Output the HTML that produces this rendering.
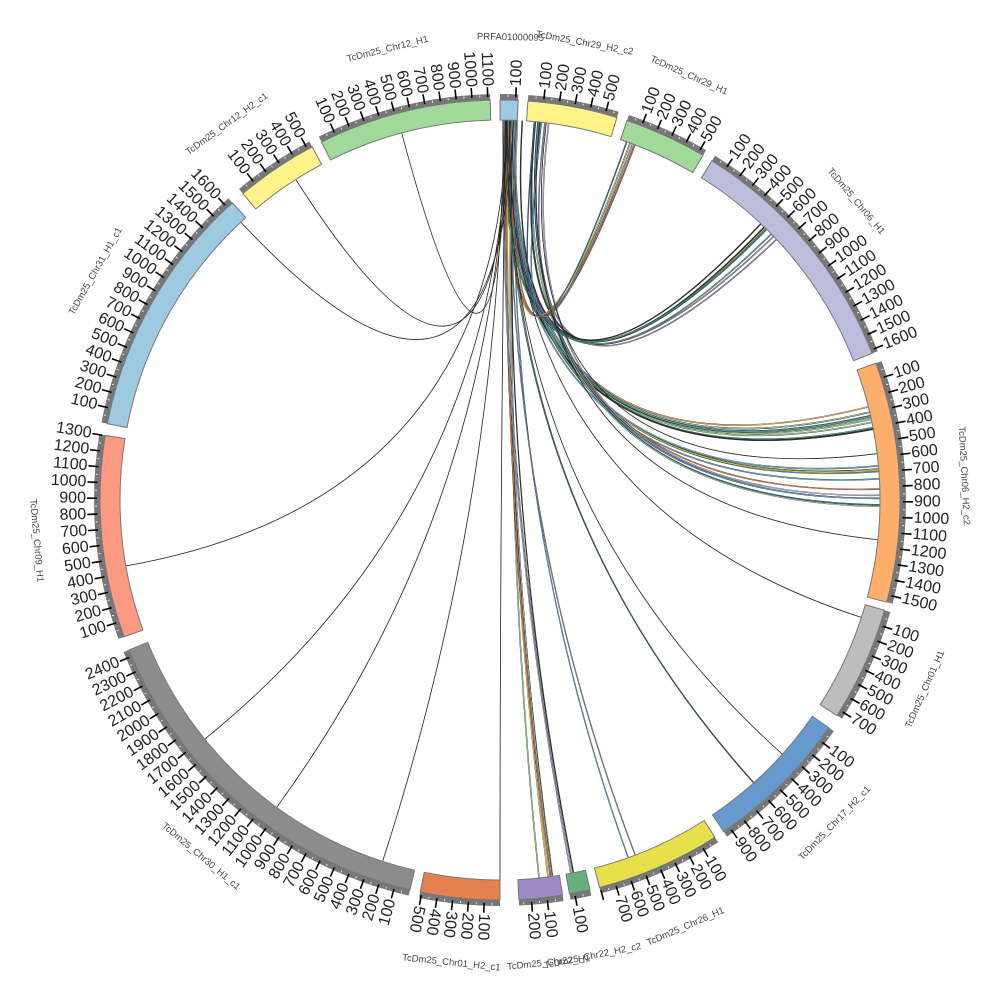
<!DOCTYPE html>
<html><head><meta charset="utf-8"><style>
html,body{margin:0;padding:0;background:#fff;width:1000px;height:1000px;overflow:hidden}
svg{display:block}
.n text{font-family:"Liberation Sans",sans-serif;font-size:16px;fill:#222;dominant-baseline:central}
.n .u{text-anchor:start}
.n .f{text-anchor:end}
.lab text{font-family:"Liberation Sans",sans-serif;font-size:9.5px;fill:#444;text-anchor:middle}
</style></head><body>
<svg id="s" width="1000" height="1000" viewBox="0 0 1000 1000">
<g id="links"></g>
<g id="blocks"></g>
<g transform="translate(500,500)">
<g class="lab">
<text transform="rotate(1.3)translate(0,-460)">PRFA01000095</text>
<text transform="rotate(10.5)translate(0,-462)">TcDm25_Chr29_H2_c2</text>
<text transform="rotate(24)translate(0,-462)">TcDm25_Chr29_H1</text>
<text transform="rotate(50)translate(0,-462)">TcDm25_Chr06_H1</text>
<text transform="rotate(87)translate(0,-462)">TcDm25_Chr06_H2_c2</text>
<text transform="rotate(114)translate(0,-468)rotate(180)">TcDm25_Chr01_H1</text>
<text transform="rotate(134)translate(0,-468)rotate(180)">TcDm25_Chr17_H2_c1</text>
<text transform="rotate(156.5)translate(0,-468)rotate(180)">TcDm25_Chr26_H1</text>
<text transform="rotate(168.5)translate(0,-468)rotate(180)">TcDm25_Chr22_H2_c2</text>
<text transform="rotate(174)translate(0,-468)rotate(180)">TcDm25_Chr22_H1</text>
<text transform="rotate(186)translate(0,-468)rotate(180)">TcDm25_Chr01_H2_c1</text>
<text transform="rotate(220)translate(0,-468)rotate(180)">TcDm25_Chr30_H1_c1</text>
<text transform="rotate(265)translate(0,-468)rotate(180)">TcDm25_Chr09_H1</text>
<text transform="rotate(299.5)translate(0,-462)">TcDm25_Chr31_H1_c1</text>
<text transform="rotate(324)translate(0,-462)">TcDm25_Chr12_H2_c1</text>
<text transform="rotate(346)translate(0,-462)">TcDm25_Chr12_H1</text>
</g>
<g class="n">
<g transform="rotate(0)"><text class="u" transform="rotate(2.25)translate(0,-414)rotate(-90)">100</text></g>
<g transform="rotate(4)">
<text class="u" transform="rotate(2.25)translate(0,-414)rotate(-90)">100</text>
<text class="u" transform="rotate(4.5)translate(0,-414)rotate(-90)">200</text>
<text class="u" transform="rotate(6.75)translate(0,-414)rotate(-90)">300</text>
<text class="u" transform="rotate(9)translate(0,-414)rotate(-90)">400</text>
<text class="u" transform="rotate(11.25)translate(0,-414)rotate(-90)">500</text>
</g>
<g transform="rotate(18.5)">
<text class="u" transform="rotate(2.25)translate(0,-414)rotate(-90)">100</text>
<text class="u" transform="rotate(4.5)translate(0,-414)rotate(-90)">200</text>
<text class="u" transform="rotate(6.75)translate(0,-414)rotate(-90)">300</text>
<text class="u" transform="rotate(9)translate(0,-414)rotate(-90)">400</text>
<text class="u" transform="rotate(11.25)translate(0,-414)rotate(-90)">500</text>
</g>
<g transform="rotate(32)">
<text class="u" transform="rotate(2.25)translate(0,-414)rotate(-90)">100</text>
<text class="u" transform="rotate(4.5)translate(0,-414)rotate(-90)">200</text>
<text class="u" transform="rotate(6.75)translate(0,-414)rotate(-90)">300</text>
<text class="u" transform="rotate(9)translate(0,-414)rotate(-90)">400</text>
<text class="u" transform="rotate(11.25)translate(0,-414)rotate(-90)">500</text>
<text class="u" transform="rotate(13.5)translate(0,-414)rotate(-90)">600</text>
<text class="u" transform="rotate(15.75)translate(0,-414)rotate(-90)">700</text>
<text class="u" transform="rotate(18)translate(0,-414)rotate(-90)">800</text>
<text class="u" transform="rotate(20.25)translate(0,-414)rotate(-90)">900</text>
<text class="u" transform="rotate(22.5)translate(0,-414)rotate(-90)">1000</text>
<text class="u" transform="rotate(24.75)translate(0,-414)rotate(-90)">1100</text>
<text class="u" transform="rotate(27)translate(0,-414)rotate(-90)">1200</text>
<text class="u" transform="rotate(29.25)translate(0,-414)rotate(-90)">1300</text>
<text class="u" transform="rotate(31.5)translate(0,-414)rotate(-90)">1400</text>
<text class="u" transform="rotate(33.75)translate(0,-414)rotate(-90)">1500</text>
<text class="u" transform="rotate(36)translate(0,-414)rotate(-90)">1600</text>
</g>
<g transform="rotate(70)">
<text class="u" transform="rotate(2.25)translate(0,-414)rotate(-90)">100</text>
<text class="u" transform="rotate(4.5)translate(0,-414)rotate(-90)">200</text>
<text class="u" transform="rotate(6.75)translate(0,-414)rotate(-90)">300</text>
<text class="u" transform="rotate(9)translate(0,-414)rotate(-90)">400</text>
<text class="u" transform="rotate(11.25)translate(0,-414)rotate(-90)">500</text>
<text class="u" transform="rotate(13.5)translate(0,-414)rotate(-90)">600</text>
<text class="u" transform="rotate(15.75)translate(0,-414)rotate(-90)">700</text>
<text class="u" transform="rotate(18)translate(0,-414)rotate(-90)">800</text>
<text class="u" transform="rotate(20.25)translate(0,-414)rotate(-90)">900</text>
<text class="u" transform="rotate(22.5)translate(0,-414)rotate(-90)">1000</text>
<text class="u" transform="rotate(24.75)translate(0,-414)rotate(-90)">1100</text>
<text class="u" transform="rotate(27)translate(0,-414)rotate(-90)">1200</text>
<text class="u" transform="rotate(29.25)translate(0,-414)rotate(-90)">1300</text>
<text class="u" transform="rotate(31.5)translate(0,-414)rotate(-90)">1400</text>
<text class="u" transform="rotate(33.75)translate(0,-414)rotate(-90)">1500</text>
</g>
<g transform="rotate(106)">
<text class="u" transform="rotate(2.25)translate(0,-414)rotate(-90)">100</text>
<text class="u" transform="rotate(4.5)translate(0,-414)rotate(-90)">200</text>
<text class="u" transform="rotate(6.75)translate(0,-414)rotate(-90)">300</text>
<text class="u" transform="rotate(9)translate(0,-414)rotate(-90)">400</text>
<text class="u" transform="rotate(11.25)translate(0,-414)rotate(-90)">500</text>
<text class="u" transform="rotate(13.5)translate(0,-414)rotate(-90)">600</text>
<text class="u" transform="rotate(15.75)translate(0,-414)rotate(-90)">700</text>
</g>
<g transform="rotate(124.7)">
<text class="u" transform="rotate(2.25)translate(0,-414)rotate(-90)">100</text>
<text class="u" transform="rotate(4.5)translate(0,-414)rotate(-90)">200</text>
<text class="u" transform="rotate(6.75)translate(0,-414)rotate(-90)">300</text>
<text class="u" transform="rotate(9)translate(0,-414)rotate(-90)">400</text>
<text class="u" transform="rotate(11.25)translate(0,-414)rotate(-90)">500</text>
<text class="u" transform="rotate(13.5)translate(0,-414)rotate(-90)">600</text>
<text class="u" transform="rotate(15.75)translate(0,-414)rotate(-90)">700</text>
<text class="u" transform="rotate(18)translate(0,-414)rotate(-90)">800</text>
<text class="u" transform="rotate(20.25)translate(0,-414)rotate(-90)">900</text>
</g>
<g transform="rotate(147.5)">
<text class="u" transform="rotate(2.25)translate(0,-414)rotate(-90)">100</text>
<text class="u" transform="rotate(4.5)translate(0,-414)rotate(-90)">200</text>
<text class="u" transform="rotate(6.75)translate(0,-414)rotate(-90)">300</text>
<text class="u" transform="rotate(9)translate(0,-414)rotate(-90)">400</text>
<text class="u" transform="rotate(11.25)translate(0,-414)rotate(-90)">500</text>
<text class="u" transform="rotate(13.5)translate(0,-414)rotate(-90)">600</text>
<text class="u" transform="rotate(15.75)translate(0,-414)rotate(-90)">700</text>
</g>
<g transform="rotate(167)"><text class="u" transform="rotate(2.25)translate(0,-414)rotate(-90)">100</text></g>
<g transform="rotate(171)">
<text class="u" transform="rotate(2.25)translate(0,-414)rotate(-90)">100</text>
<text class="u" transform="rotate(4.5)translate(0,-414)rotate(-90)">200</text>
</g>
<g transform="rotate(180)">
<text class="u" transform="rotate(2.25)translate(0,-414)rotate(-90)">100</text>
<text class="u" transform="rotate(4.5)translate(0,-414)rotate(-90)">200</text>
<text class="u" transform="rotate(6.75)translate(0,-414)rotate(-90)">300</text>
<text class="u" transform="rotate(9)translate(0,-414)rotate(-90)">400</text>
<text class="u" transform="rotate(11.25)translate(0,-414)rotate(-90)">500</text>
</g>
<g transform="rotate(193)">
<text class="f" transform="rotate(2.25)translate(0,-414)rotate(90)">100</text>
<text class="f" transform="rotate(4.5)translate(0,-414)rotate(90)">200</text>
<text class="f" transform="rotate(6.75)translate(0,-414)rotate(90)">300</text>
<text class="f" transform="rotate(9)translate(0,-414)rotate(90)">400</text>
<text class="f" transform="rotate(11.25)translate(0,-414)rotate(90)">500</text>
<text class="f" transform="rotate(13.5)translate(0,-414)rotate(90)">600</text>
<text class="f" transform="rotate(15.75)translate(0,-414)rotate(90)">700</text>
<text class="f" transform="rotate(18)translate(0,-414)rotate(90)">800</text>
<text class="f" transform="rotate(20.25)translate(0,-414)rotate(90)">900</text>
<text class="f" transform="rotate(22.5)translate(0,-414)rotate(90)">1000</text>
<text class="f" transform="rotate(24.75)translate(0,-414)rotate(90)">1100</text>
<text class="f" transform="rotate(27)translate(0,-414)rotate(90)">1200</text>
<text class="f" transform="rotate(29.25)translate(0,-414)rotate(90)">1300</text>
<text class="f" transform="rotate(31.5)translate(0,-414)rotate(90)">1400</text>
<text class="f" transform="rotate(33.75)translate(0,-414)rotate(90)">1500</text>
<text class="f" transform="rotate(36)translate(0,-414)rotate(90)">1600</text>
<text class="f" transform="rotate(38.25)translate(0,-414)rotate(90)">1700</text>
<text class="f" transform="rotate(40.5)translate(0,-414)rotate(90)">1800</text>
<text class="f" transform="rotate(42.75)translate(0,-414)rotate(90)">1900</text>
<text class="f" transform="rotate(45)translate(0,-414)rotate(90)">2000</text>
<text class="f" transform="rotate(47.25)translate(0,-414)rotate(90)">2100</text>
<text class="f" transform="rotate(49.5)translate(0,-414)rotate(90)">2200</text>
<text class="f" transform="rotate(51.75)translate(0,-414)rotate(90)">2300</text>
<text class="f" transform="rotate(54)translate(0,-414)rotate(90)">2400</text>
</g>
<g transform="rotate(250)">
<text class="f" transform="rotate(2.25)translate(0,-414)rotate(90)">100</text>
<text class="f" transform="rotate(4.5)translate(0,-414)rotate(90)">200</text>
<text class="f" transform="rotate(6.75)translate(0,-414)rotate(90)">300</text>
<text class="f" transform="rotate(9)translate(0,-414)rotate(90)">400</text>
<text class="f" transform="rotate(11.25)translate(0,-414)rotate(90)">500</text>
<text class="f" transform="rotate(13.5)translate(0,-414)rotate(90)">600</text>
<text class="f" transform="rotate(15.75)translate(0,-414)rotate(90)">700</text>
<text class="f" transform="rotate(18)translate(0,-414)rotate(90)">800</text>
<text class="f" transform="rotate(20.25)translate(0,-414)rotate(90)">900</text>
<text class="f" transform="rotate(22.5)translate(0,-414)rotate(90)">1000</text>
<text class="f" transform="rotate(24.75)translate(0,-414)rotate(90)">1100</text>
<text class="f" transform="rotate(27)translate(0,-414)rotate(90)">1200</text>
<text class="f" transform="rotate(29.25)translate(0,-414)rotate(90)">1300</text>
</g>
<g transform="rotate(281)">
<text class="f" transform="rotate(2.25)translate(0,-414)rotate(90)">100</text>
<text class="f" transform="rotate(4.5)translate(0,-414)rotate(90)">200</text>
<text class="f" transform="rotate(6.75)translate(0,-414)rotate(90)">300</text>
<text class="f" transform="rotate(9)translate(0,-414)rotate(90)">400</text>
<text class="f" transform="rotate(11.25)translate(0,-414)rotate(90)">500</text>
<text class="f" transform="rotate(13.5)translate(0,-414)rotate(90)">600</text>
<text class="f" transform="rotate(15.75)translate(0,-414)rotate(90)">700</text>
<text class="f" transform="rotate(18)translate(0,-414)rotate(90)">800</text>
<text class="f" transform="rotate(20.25)translate(0,-414)rotate(90)">900</text>
<text class="f" transform="rotate(22.5)translate(0,-414)rotate(90)">1000</text>
<text class="f" transform="rotate(24.75)translate(0,-414)rotate(90)">1100</text>
<text class="f" transform="rotate(27)translate(0,-414)rotate(90)">1200</text>
<text class="f" transform="rotate(29.25)translate(0,-414)rotate(90)">1300</text>
<text class="f" transform="rotate(31.5)translate(0,-414)rotate(90)">1400</text>
<text class="f" transform="rotate(33.75)translate(0,-414)rotate(90)">1500</text>
<text class="f" transform="rotate(36)translate(0,-414)rotate(90)">1600</text>
</g>
<g transform="rotate(320)">
<text class="f" transform="rotate(2.25)translate(0,-414)rotate(90)">100</text>
<text class="f" transform="rotate(4.5)translate(0,-414)rotate(90)">200</text>
<text class="f" transform="rotate(6.75)translate(0,-414)rotate(90)">300</text>
<text class="f" transform="rotate(9)translate(0,-414)rotate(90)">400</text>
<text class="f" transform="rotate(11.25)translate(0,-414)rotate(90)">500</text>
</g>
<g transform="rotate(333.5)">
<text class="f" transform="rotate(2.25)translate(0,-414)rotate(90)">100</text>
<text class="f" transform="rotate(4.5)translate(0,-414)rotate(90)">200</text>
<text class="f" transform="rotate(6.75)translate(0,-414)rotate(90)">300</text>
<text class="f" transform="rotate(9)translate(0,-414)rotate(90)">400</text>
<text class="f" transform="rotate(11.25)translate(0,-414)rotate(90)">500</text>
<text class="f" transform="rotate(13.5)translate(0,-414)rotate(90)">600</text>
<text class="f" transform="rotate(15.75)translate(0,-414)rotate(90)">700</text>
<text class="f" transform="rotate(18)translate(0,-414)rotate(90)">800</text>
<text class="f" transform="rotate(20.25)translate(0,-414)rotate(90)">900</text>
<text class="f" transform="rotate(22.5)translate(0,-414)rotate(90)">1000</text>
<text class="f" transform="rotate(24.75)translate(0,-414)rotate(90)">1100</text>
</g>
</g>
</g>
</svg>
<script>
(function(){
var NS="http://www.w3.org/2000/svg",C=500,R1=380,R2=400;
function pt(a,r){a=a*Math.PI/180;return [C+r*Math.sin(a),C-r*Math.cos(a)];}
function el(t,at,p){var e=document.createElementNS(NS,t);for(var k in at)e.setAttribute(k,at[k]);p.appendChild(e);return e;}
var B=document.getElementById("blocks"),L=document.getElementById("links");
var segs=[[0,2.6,'#9ecae1'],[4,17,'#fff38a'],[18.5,30.5,'#a1d99b'],[32,68.5,'#bcbddc'],[70,104.8,'#fdae6b'],[106,122.6,'#bdbdbd'],[124.7,146,'#6699cc'],[147.5,165.6,'#e7e04a'],[167,170,'#66b07f'],[171,177.3,'#9e8ac4'],[180,191.5,'#e6804f'],[193,248,'#8c8c8c'],[250,279.3,'#fb9a80'],[281,318,'#9ecae1'],[320,332,'#fff38a'],[333.5,358.6,'#a1d99b']];
function arc(a1,a2,r1,r2){var p1=pt(a1,r2),p2=pt(a2,r2),p3=pt(a2,r1),p4=pt(a1,r1),lg=(a2-a1)>180?1:0;
return "M"+p1+"A"+r2+","+r2+" 0 "+lg+" 1 "+p2+"L"+p3+"A"+r1+","+r1+" 0 "+lg+" 0 "+p4+"Z";}
segs.forEach(function(s){
 el("path",{d:arc(s[0],s[1],R2-2,R2+6),fill:"#777"},B);
 el("path",{d:arc(s[0],s[1],R1,R2),fill:s[2],stroke:"#777","stroke-width":1},B);
 for(var v=50;v*0.0225<=s[1]-s[0];v+=100){var a=s[0]+v*0.0225;var q=pt(a,R2+3),w=pt(a,R2+5);el("line",{x1:q[0],y1:q[1],x2:w[0],y2:w[1],stroke:"#fff","stroke-width":0.8},B);}
 for(var k=1;k*2.25<=s[1]-s[0];k++){var a=s[0]+k*2.25;var q=pt(a,R2+3),w=pt(a,R2+13);el("line",{x1:q[0],y1:q[1],x2:w[0],y2:w[1],stroke:"#000","stroke-width":1.6},B);}
});
var seed=7;function rnd(){seed=(seed*9301+49297)%233280;return seed/233280;}
var pal=['#e6804f','#a1d99b','#6baed6','#fff38a','#bcbddc','#fdae6b','#5aae7a','#3d6fa8','#e7e04a','#9e8fc8','#333'];
function link(a1,a2,col,w){var p=pt(a1,R1),q=pt(a2,R1);var d="M"+p+"Q"+C+","+C+" "+q;
 el("path",{d:d,fill:"none",stroke:"#222","stroke-width":w+0.6},L);
 el("path",{d:d,fill:"none",stroke:col,"stroke-width":w},L);}
function bundle(n,a,b,c,d,w){for(var i=0;i<n;i++)link(a+rnd()*(b-a),c+rnd()*(d-c),pal[Math.floor(rnd()*pal.length)],w);}
bundle(12,0.4,2.4,75.5,79.5,0.9);
bundle(6,0.4,2.4,84.5,87,0.9);
bundle(6,4.5,7.5,88,92,0.8);
bundle(8,0.5,7,43,47,0.8);
bundle(6,19.2,21,1,7,0.8);
bundle(7,0.8,3,172,174.5,0.8);
bundle(3,0.5,2.5,168.5,169.5,0.6);
bundle(2,1,3,159,161,0.6);
bundle(2,1,2.5,138,140,0.3);
var singles=[[1.5,108],[1.2,132],[0.8,180],[0.6,198],[1,216],[1.2,231],[1,260],[2,317],[1.5,327.5],[1,345],[6,96],[7,83]];
singles.forEach(function(s){link(s[0],s[1],'#333',0.2);});
})();
</script>
</body></html>
